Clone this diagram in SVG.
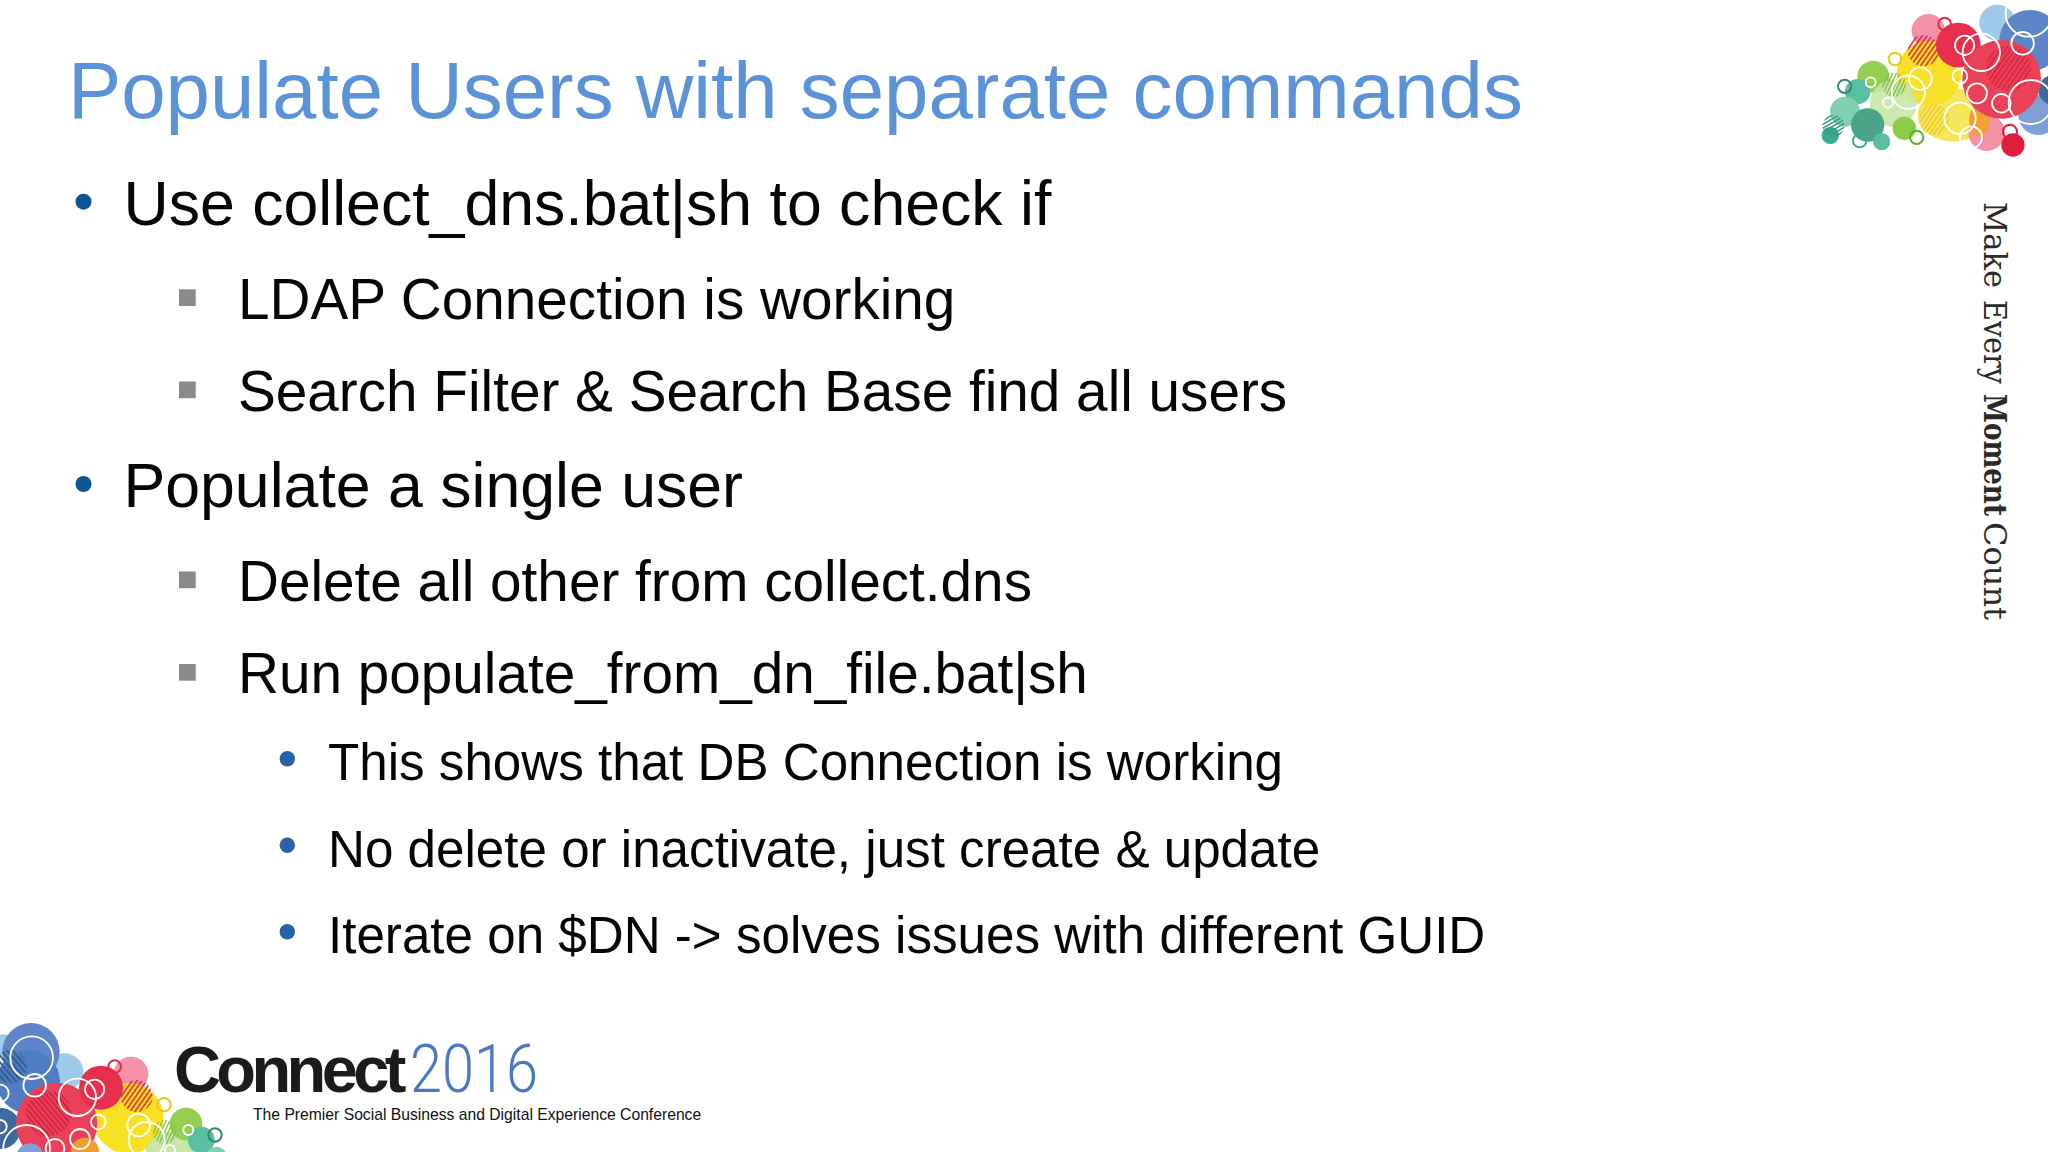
<svg xmlns="http://www.w3.org/2000/svg" width="2048" height="1152" viewBox="0 0 2048 1152">
<defs>
<style>
text{font-family:"Liberation Sans",Arial,sans-serif}
.l1{font-size:62.6px;fill:#050505}
.l2{font-size:56.7px;fill:#050505}
.l3{font-size:51.15px;fill:#050505}
.sq{fill:#8a898b}
.b1{fill:#0e5596}
.b3{fill:#2a62a8}
.r{fill:none;stroke:#fff;stroke-width:5.5}
.rg{fill:none;stroke-width:6}
.side{font-family:"DejaVu Serif",serif;font-size:31px;fill:#2a2a2a}
</style>
<pattern id="hr" width="12" height="12" patternUnits="userSpaceOnUse" patternTransform="rotate(35)"><rect width="4.5" height="12" fill="#d8203f"/></pattern>
<pattern id="hrb" width="12" height="12" patternUnits="userSpaceOnUse" patternTransform="rotate(-40)"><rect width="5" height="12" fill="#cf1f3d"/></pattern>
<pattern id="hp" width="12" height="12" patternUnits="userSpaceOnUse" patternTransform="rotate(35)"><rect width="5" height="12" fill="#d8233f"/></pattern>
<pattern id="hy" width="11" height="11" patternUnits="userSpaceOnUse" patternTransform="rotate(35)"><rect width="4" height="11" fill="#e8c820"/></pattern>
<pattern id="hg" width="10" height="10" patternUnits="userSpaceOnUse" patternTransform="rotate(25)"><rect width="4" height="10" fill="#7cc040"/></pattern>
<pattern id="ht" width="10" height="10" patternUnits="userSpaceOnUse" patternTransform="rotate(60)"><rect width="4.5" height="10" fill="#2f9a80"/></pattern>
<pattern id="hb" width="13" height="13" patternUnits="userSpaceOnUse" patternTransform="rotate(-40)"><rect width="6" height="13" fill="#2f5f90"/></pattern>
</defs>
<rect width="2048" height="1152" fill="#fff"/>
<text id="title" x="68" y="118" font-size="79.8" fill="#5b93d8">Populate Users with separate commands</text>
<g id="body">
<circle class="b1" cx="83.5" cy="201.7" r="8"/>
<text class="l1" x="123.5" y="225">Use collect_dns.bat|sh to check if</text>
<rect class="sq" x="179" y="289.3" width="16.7" height="16.7"/>
<text class="l2" x="238" y="318.7">LDAP Connection is working</text>
<rect class="sq" x="179" y="381.5" width="16.7" height="16.7"/>
<text class="l2" x="238" y="411">Search Filter &amp; Search Base find all users</text>
<circle class="b1" cx="83.5" cy="484" r="8"/>
<text class="l1" x="123.5" y="507">Populate a single user</text>
<rect class="sq" x="179" y="571.5" width="16.7" height="16.7"/>
<text class="l2" x="238" y="600.5">Delete all other from collect.dns</text>
<rect class="sq" x="179" y="664" width="16.7" height="16.7"/>
<text class="l2" x="238" y="692.5">Run populate_from_dn_file.bat|sh</text>
<circle class="b3" cx="287.3" cy="758.7" r="7.7"/>
<text class="l3" x="328" y="780">This shows that DB Connection is working</text>
<circle class="b3" cx="287.3" cy="845.3" r="7.7"/>
<text class="l3" x="328" y="866.7">No delete or inactivate, just create &amp; update</text>
<circle class="b3" cx="287.3" cy="931.7" r="7.7"/>
<text class="l3" x="328" y="952.7">Iterate on $DN -&gt; solves issues with different GUID</text>
</g>
<g id="side-text" transform="translate(1984,0) rotate(90)">
<text class="side" x="202" textLength="86" lengthAdjust="spacingAndGlyphs">Make</text>
<text class="side" x="300" textLength="84" lengthAdjust="spacingAndGlyphs">Every</text>
<text class="side" x="394" textLength="122" lengthAdjust="spacingAndGlyphs" font-weight="700">Moment</text>
<text class="side" x="522" textLength="98" lengthAdjust="spacingAndGlyphs">Count</text>
</g>
<g id="logo">
<text x="174" y="1092" font-size="65" font-weight="700" fill="#1c1a1b" letter-spacing="-4.6">Connect</text>
<text x="410" y="1092" font-size="66" font-weight="300" fill="#4a78c4" style="font-family:Roboto,sans-serif" textLength="128" lengthAdjust="spacingAndGlyphs">2016</text>
<text x="253" y="1119.5" font-size="15.7" fill="#111">The Premier Social Business and Digital Experience Conference</text>
</g>
<g id="art-top" transform="translate(1790,0) scale(.3333)">
<circle cx="622" cy="68" r="54" fill="#9fcae9"/>
<circle cx="720" cy="122" r="92" fill="#5c86c8"/>
<circle cx="415" cy="92" r="50" fill="#f692a8"/>
<ellipse cx="490" cy="345" rx="107" ry="80" fill="#f5e65c"/>
<circle cx="417" cy="220" r="97" fill="#f8e024"/>
<circle cx="590" cy="398" r="55" fill="#f492a6"/>
<ellipse cx="568" cy="360" rx="30" ry="50" fill="#f3a030"/>
<circle cx="400" cy="152" r="47" fill="url(#hr)"/>
<circle cx="505" cy="135" r="67" fill="#e8304e"/>
<circle cx="745" cy="345" r="60" fill="#7f9fd8"/>
<circle cx="790" cy="270" r="45" fill="#3f6a9c"/>
<circle cx="635" cy="238" r="118" fill="#ea4058"/>
<circle cx="656" cy="205" r="68" fill="url(#hp)"/>
<circle cx="250" cy="230" r="48" fill="#95cf52"/>
<circle cx="310" cy="310" r="70" fill="#c8e6a8" fill-opacity=".9"/>
<circle cx="203" cy="275" r="38" fill="#58c0a0"/>
<circle cx="165" cy="335" r="45" fill="#82d0b2"/>
<circle cx="233" cy="375" r="50" fill="#4aa488"/>
<circle cx="275" cy="425" r="26" fill="#58c0a0"/>
<circle cx="343" cy="385" r="35" fill="#8ccc48"/>
<circle cx="121" cy="406" r="26" fill="#38ac90"/>
<circle cx="130" cy="378" r="33" fill="url(#ht)"/>
<circle cx="312" cy="254" r="36" fill="url(#hg)"/>
<circle cx="433" cy="360" r="46" fill="url(#hy)"/>
<circle cx="669" cy="435" r="35" fill="#e01f40"/>
<circle class="rg" cx="660" cy="395" r="21" stroke="#e01f40"/>
<circle class="rg" cx="464" cy="72" r="19" stroke="#d8304c"/>
<circle class="rg" cx="315" cy="177" r="19" stroke="#e8c81c"/>
<circle class="rg" cx="164" cy="259" r="20" stroke="#2e8a70"/>
<circle class="rg" cx="209" cy="422" r="20" stroke="#38ac90"/>
<circle class="rg" cx="380" cy="412" r="20" stroke="#58b030"/>
<circle class="r" cx="717" cy="40" r="70"/>
<circle class="r" cx="698" cy="130" r="34"/>
<circle class="r" cx="574" cy="157" r="56"/>
<circle class="r" cx="524" cy="136" r="29"/>
<circle class="r" cx="510" cy="229" r="22"/>
<circle class="r" cx="391" cy="236" r="34"/>
<circle class="r" cx="355" cy="277" r="50"/>
<circle class="r" cx="242" cy="247" r="15"/>
<circle class="r" cx="294" cy="308" r="15"/>
<circle class="r" cx="561" cy="280" r="30"/>
<circle class="r" cx="634" cy="310" r="28"/>
<circle class="r" cx="722" cy="306" r="66"/>
<circle class="r" cx="510" cy="355" r="47"/>
<circle class="r" cx="543" cy="412" r="33"/>
</g>
<g id="art-bottom" transform="translate(0,1010) scale(.3333)">
<circle cx="10" cy="105" r="32" fill="#9fcae9"/>
<circle cx="195" cy="185" r="55" fill="#9fcae9"/>
<circle cx="93" cy="125" r="86" fill="#5c86c8"/>
<circle cx="85" cy="215" r="95" fill="#4f7cc2"/>
<circle cx="393" cy="192" r="52" fill="#f692a8"/>
<circle cx="385" cy="325" r="106" fill="#f8e024"/>
<circle cx="30" cy="170" r="50" fill="url(#hb)"/>
<circle cx="0" cy="355" r="62" fill="#3f6a9c"/>
<circle cx="170" cy="340" r="122" fill="#ea4058"/>
<circle cx="145" cy="310" r="68" fill="url(#hrb)"/>
<circle cx="303" cy="233" r="66" fill="#e8304e"/>
<circle cx="410" cy="258" r="48" fill="url(#hr)"/>
<circle cx="255" cy="425" r="42" fill="#f39a30"/>
<circle cx="90" cy="440" r="40" fill="#7f9fd8"/>
<circle cx="510" cy="440" r="75" fill="#c8e6a8"/>
<circle cx="558" cy="342" r="49" fill="#95cf52"/>
<circle cx="604" cy="390" r="40" fill="#58c0a0"/>
<circle cx="650" cy="440" r="30" fill="#82d0b2"/>
<circle cx="494" cy="366" r="36" fill="url(#hg)"/>
<circle class="rg" cx="344" cy="170" r="19" stroke="#d8304c"/>
<circle class="rg" cx="492" cy="284" r="20" stroke="#e8c81c"/>
<circle class="rg" cx="645" cy="375" r="20" stroke="#2e8a70"/>
<circle class="r" cx="95" cy="143" r="64"/>
<circle class="r" cx="104" cy="226" r="34"/>
<circle class="r" cx="232" cy="262" r="56"/>
<circle class="r" cx="284" cy="238" r="29"/>
<circle class="r" cx="295" cy="336" r="22"/>
<circle class="r" cx="416" cy="345" r="34"/>
<circle class="r" cx="440" cy="390" r="54"/>
<circle class="r" cx="565" cy="360" r="15"/>
<circle class="r" cx="510" cy="420" r="15"/>
<circle class="r" cx="240" cy="387" r="30"/>
<circle class="r" cx="165" cy="415" r="28"/>
<circle class="r" cx="80" cy="415" r="70"/>
<circle class="r" cx="0" cy="350" r="20"/>
<circle class="r" cx="0" cy="250" r="26"/>
</g>
</svg>
